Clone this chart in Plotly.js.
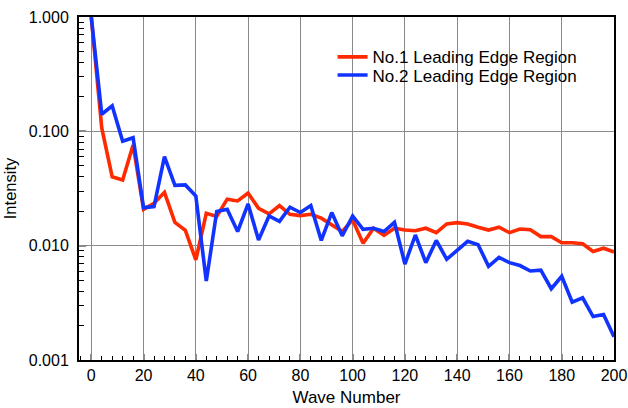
<!DOCTYPE html>
<html>
<head>
<meta charset="utf-8">
<script src="https://cdn.plot.ly/plotly-3.0.1.min.js"></script>
<style>
  html, body { margin: 0; padding: 0; background: #fff; }
  #chart { width: 628px; height: 408px; }
</style>
</head>
<body>
<div id="chart"></div>
<script>
// Wave numbers sampled every 4 units
const waveNumber = [0, 4, 8, 12, 16, 20, 24, 28, 32, 36, 40, 44, 48, 52, 56, 60, 64, 68, 72, 76,
  80, 84, 88, 92, 96, 100, 104, 108, 112, 116, 120, 124, 128, 132, 136, 140, 144, 148, 152, 156,
  160, 164, 168, 172, 176, 180, 184, 188, 192, 196, 200];

// Normalised spectral intensity, region No.1
const region1 = [1.0, 0.107, 0.040, 0.0376, 0.076, 0.0208, 0.0235, 0.0293, 0.016, 0.0136,
  0.0075, 0.0192, 0.018, 0.0255, 0.0246, 0.0288, 0.0212, 0.019, 0.0224, 0.0188,
  0.0183, 0.0188, 0.0174, 0.0152, 0.0133, 0.0168, 0.0105, 0.0142, 0.0123, 0.0142,
  0.0137, 0.0135, 0.0142, 0.013, 0.0155, 0.0159, 0.0155, 0.0145, 0.0137, 0.0145,
  0.013, 0.014, 0.0138, 0.012, 0.012, 0.0106, 0.0106, 0.0104, 0.0089, 0.0095, 0.0088];

// Normalised spectral intensity, region No.2
const region2 = [1.0, 0.141, 0.167, 0.082, 0.088, 0.0215, 0.022, 0.060, 0.0337, 0.034,
  0.0272, 0.0049, 0.0199, 0.0208, 0.0133, 0.0232, 0.0112, 0.0182, 0.0163, 0.0217,
  0.0195, 0.0224, 0.0111, 0.0195, 0.0122, 0.0182, 0.0139, 0.0142, 0.0133, 0.016,
  0.0069, 0.0124, 0.0071, 0.0111, 0.0076, 0.0092, 0.0109, 0.0102, 0.0066, 0.0079,
  0.0071, 0.0067, 0.006, 0.0061, 0.0042, 0.0054, 0.0032, 0.0035, 0.0024, 0.0025, 0.0016];

const seriesNames = ['No.1 Leading Edge Region', 'No.2 Leading Edge Region'];

const xTickVals = [0, 20, 40, 60, 80, 100, 120, 140, 160, 180, 200];
const yTickVals = [0.001, 0.01, 0.1, 1];
const yTickText = ['0.001', '0.010', '0.100', '1.000'];
const yMinorVals = [0.002, 0.003, 0.004, 0.005, 0.006, 0.007, 0.008, 0.009,
  0.02, 0.03, 0.04, 0.05, 0.06, 0.07, 0.08, 0.09,
  0.2, 0.3, 0.4, 0.5, 0.6, 0.7, 0.8, 0.9];

const FONT = 'Liberation Sans, Arial, Helvetica, sans-serif';
const LEGEND_FONT = { family: FONT, size: 17, color: '#000' };

const traces = [
  {
    x: waveNumber, y: region1, name: seriesNames[0],
    type: 'scatter', mode: 'lines', legend: 'legend',
    line: { color: '#FF2A00', width: 3.6 }
  },
  {
    x: waveNumber, y: region2, name: seriesNames[1],
    type: 'scatter', mode: 'lines', legend: 'legend2',
    line: { color: '#1133FF', width: 3.6 }
  }
];

// One legend box per series so the two rows sit tightly together
const legendBase = {
  x: 0.474, xanchor: 'left', yanchor: 'top',
  bgcolor: 'rgba(0,0,0,0)', borderwidth: 0,
  font: LEGEND_FONT, itemwidth: 30
};

const layout = {
  width: 628, height: 408,
  margin: { l: 79, r: 14, t: 17, b: 48 },
  paper_bgcolor: '#fff', plot_bgcolor: '#fff',
  font: { family: FONT, size: 16, color: '#000' },
  showlegend: true,
  legend: Object.assign({}, legendBase, { y: 0.935 }),
  legend2: Object.assign({}, legendBase, { y: 0.882 }),
  xaxis: {
    range: [-4.7, 200],
    tickmode: 'array', tickvals: xTickVals,
    ticks: 'inside', ticklen: 6, tickwidth: 2, tickcolor: '#8a8a8a',
    tickfont: { family: FONT, size: 16 },
    showgrid: true, gridcolor: '#8a8a8a', gridwidth: 1,
    zeroline: false,
    showline: true, linecolor: '#000', linewidth: 2, mirror: true,
    minor: { dtick: 4, tick0: 0, ticks: 'inside', ticklen: 4, tickwidth: 1, tickcolor: '#000', showgrid: false },
    title: { text: 'Wave Number', font: { family: FONT, size: 17 }, standoff: 8 }
  },
  yaxis: {
    type: 'log', range: [-3, 0],
    tickmode: 'array', tickvals: yTickVals, ticktext: yTickText,
    ticks: 'inside', ticklen: 7, tickwidth: 2, tickcolor: '#8a8a8a',
    tickfont: { family: FONT, size: 16 },
    ticklabelstandoff: 5,
    showgrid: true, gridcolor: '#8a8a8a', gridwidth: 1,
    zeroline: false,
    showline: true, linecolor: '#000', linewidth: 2, mirror: true,
    minor: { tickmode: 'array', tickvals: yMinorVals, ticks: 'inside', ticklen: 5, tickwidth: 1, tickcolor: '#000', showgrid: false },
    title: { text: 'Intensity', font: { family: FONT, size: 16.5 }, standoff: 8 }
  }
};

Plotly.newPlot('chart', traces, layout, { displayModeBar: false, staticPlot: true });
</script>
</body>
</html>
